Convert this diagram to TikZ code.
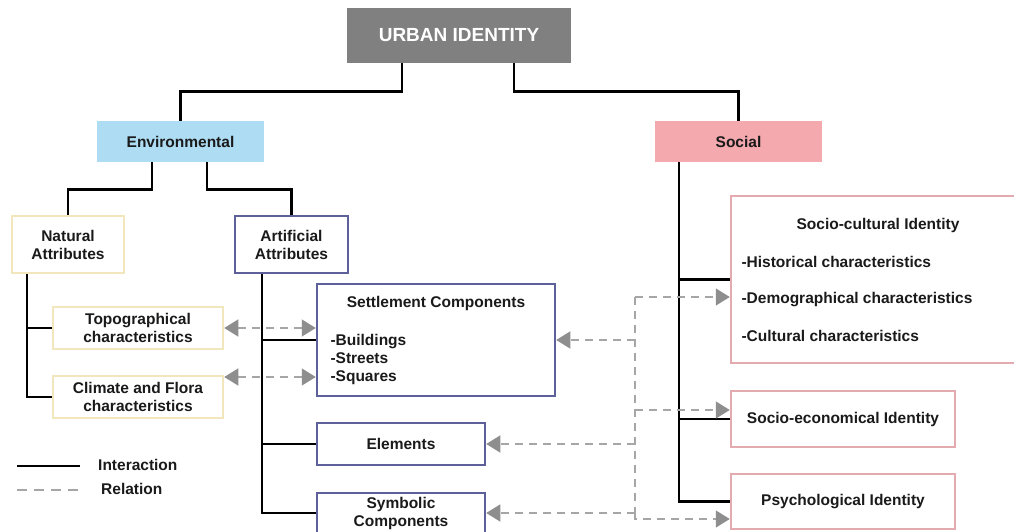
\documentclass[tikz,border=0pt]{standalone}
\usepackage{fontspec}
\setmainfont{Liberation Sans}
\usetikzlibrary{arrows.meta,calc}
\definecolor{urbgray}{HTML}{808080}
\definecolor{envblue}{HTML}{AEDCF3}
\definecolor{socpink}{HTML}{F3A9AE}
\definecolor{natyel}{HTML}{F2E6BC}
\definecolor{artblue}{HTML}{5E6199}
\definecolor{sopink}{HTML}{E3AAB0}
\definecolor{dashgray}{HTML}{A6A6A6}
\definecolor{tipgray}{HTML}{8E8E8E}
\definecolor{txt}{HTML}{1A1A1A}
\begin{document}
\begin{tikzpicture}[x=1pt,y=-1pt,
  font=\fontsize{15.5}{18}\selectfont\bfseries,
  every node/.style={text=txt},
  box/.style={rectangle, inner sep=0pt, align=center},
  natbox/.style={box, draw=natyel, line width=2.5pt},
  artbox/.style={box, draw=artblue, line width=2.5pt},
  socbox/.style={box, draw=sopink, line width=2.5pt},
  inter/.style={line width=2.9pt, black},
  rel/.style={dashgray, line width=1.4pt, dash pattern=on 8pt off 6pt},
  reltip/.style={-{Triangle[length=14pt,width=17pt,color=tipgray,fill=tipgray]}},
  bitip/.style={{Triangle[length=14pt,width=17pt,color=tipgray,fill=tipgray]}-{Triangle[length=14pt,width=17pt,color=tipgray,fill=tipgray]}}
]
\useasboundingbox (0,0) rectangle (1014,532);
\fill[white] (0,0) rectangle (1014,532);

% top level
\node[box, fill=urbgray, text=white, minimum width=224pt, minimum height=55pt,
      font=\fontsize{19}{21}\selectfont\bfseries] (urban) at (459,35.5) {URBAN IDENTITY};
\node[box, fill=envblue, minimum width=167pt, minimum height=41pt] (env) at (180.5,141.5) {Environmental};
\node[box, fill=socpink, minimum width=167pt, minimum height=41pt] (social) at (738.5,141.5) {Social};

% environmental branch
\node[natbox, minimum width=112pt, minimum height=57pt] (nat) at (68,244.5) {Natural\\Attributes};
\node[artbox, minimum width=113pt, minimum height=57pt] (art) at (291.5,244.5) {Artificial\\Attributes};
\node[natbox, minimum width=170pt, minimum height=42pt] (topo) at (138,328) {Topographical\\characteristics};
\node[natbox, minimum width=170pt, minimum height=42pt] (clim) at (138,397) {Climate and Flora\\characteristics};
\node[artbox, minimum width=238pt, minimum height=112pt] (settle) at (436,340) {};
\node (settleT) at (436,303) {Settlement Components};
\node[anchor=west, align=left] (settleL) at (327,359) {-Buildings\\-Streets\\-Squares};
\node[artbox, minimum width=168pt, minimum height=42pt] (elem) at (401,444) {Elements};
\node[artbox, minimum width=168pt, minimum height=40pt] (symb) at (401,513) {Symbolic\\Components};

% social branch
\node[socbox, minimum width=289pt, minimum height=167pt] (sc) at (875.5,279.5) {};
\node (scT) at (878,225) {Socio-cultural Identity};
\node[anchor=west] (sc1) at (738,262) {-Historical characteristics};
\node[anchor=west] (sc2) at (738,300) {-Demographical characteristics};
\node[anchor=west] (sc3) at (738,336) {-Cultural characteristics};
\node[socbox, minimum width=224pt, minimum height=56pt] (se) at (843,419) {Socio-economical Identity};
\node[socbox, minimum width=224pt, minimum height=55pt] (psy) at (843,501.5) {Psychological Identity};

% interaction lines
\draw[inter] ([xshift=-57pt]urban.south) -- ++(0,28) -| (env.north);
\draw[inter] ([xshift=55pt]urban.south) -- ++(0,28) -| (social.north);
\draw[inter] ([xshift=-28.5pt]env.south) -- ++(0,27) -| (nat.north);
\draw[inter] ([xshift=26.5pt]env.south) -- ++(0,27) -| (art.north);
\coordinate (natx) at ([xshift=-41pt]nat.south);
\draw[inter] (natx) |- (clim.west);
\draw[inter] (topo.west) -- (topo.west -| natx);
\coordinate (artx) at ([xshift=-29.5pt]art.south);
\draw[inter] (artx) |- (symb.west);
\draw[inter] (settle.west) -- (settle.west -| artx);
\draw[inter] (elem.west) -- (elem.west -| artx);
\coordinate (socx) at ([xshift=-59.5pt]social.south);
\draw[inter] (socx) |- (psy.west);
\draw[inter] (sc.west) -- (sc.west -| socx);
\draw[inter] (se.west) -- (se.west -| socx);

% relation lines
\draw[rel, bitip] (topo.east) -- (topo.east -| settle.west);
\draw[rel, bitip] ([yshift=20pt]clim.east) -- ([yshift=20pt]clim.east -| settle.west);
\coordinate (hubtop) at (635,297);
\coordinate (hubbot) at (635,513);
\coordinate (hset) at (635,340);
\coordinate (hse) at (635,410);
\coordinate (helem) at (635,444);
\draw[rel] (hubtop) -- (hubbot);
\draw[rel, reltip] (hubtop) -- (hubtop -| sc.west);
\draw[rel, reltip] (hset) -- (settle.east);
\draw[rel, reltip] (hse) -- (hse -| se.west);
\draw[rel, reltip] (helem) -- (elem.east);
\draw[rel, reltip] (hubbot) -- (symb.east);
\draw[rel, reltip] (hubbot) -- ++(0,6) -- ([yshift=-17.5pt]psy.west);

% legend
\coordinate (l1a) at (17,466);
\coordinate (l1b) at (80,466);
\coordinate (l2a) at (17,490);
\coordinate (l2b) at (80,490);
\draw[inter] (l1a) -- (l1b);
\draw[dashgray, line width=1.4pt, dash pattern=on 10pt off 7pt] (l2a) -- (l2b);
\node[anchor=west, inner sep=0pt] (legI) at (98,465) {Interaction};
\node[anchor=west, inner sep=0pt] (legR) at (101,489) {Relation};
\end{tikzpicture}
\end{document}
